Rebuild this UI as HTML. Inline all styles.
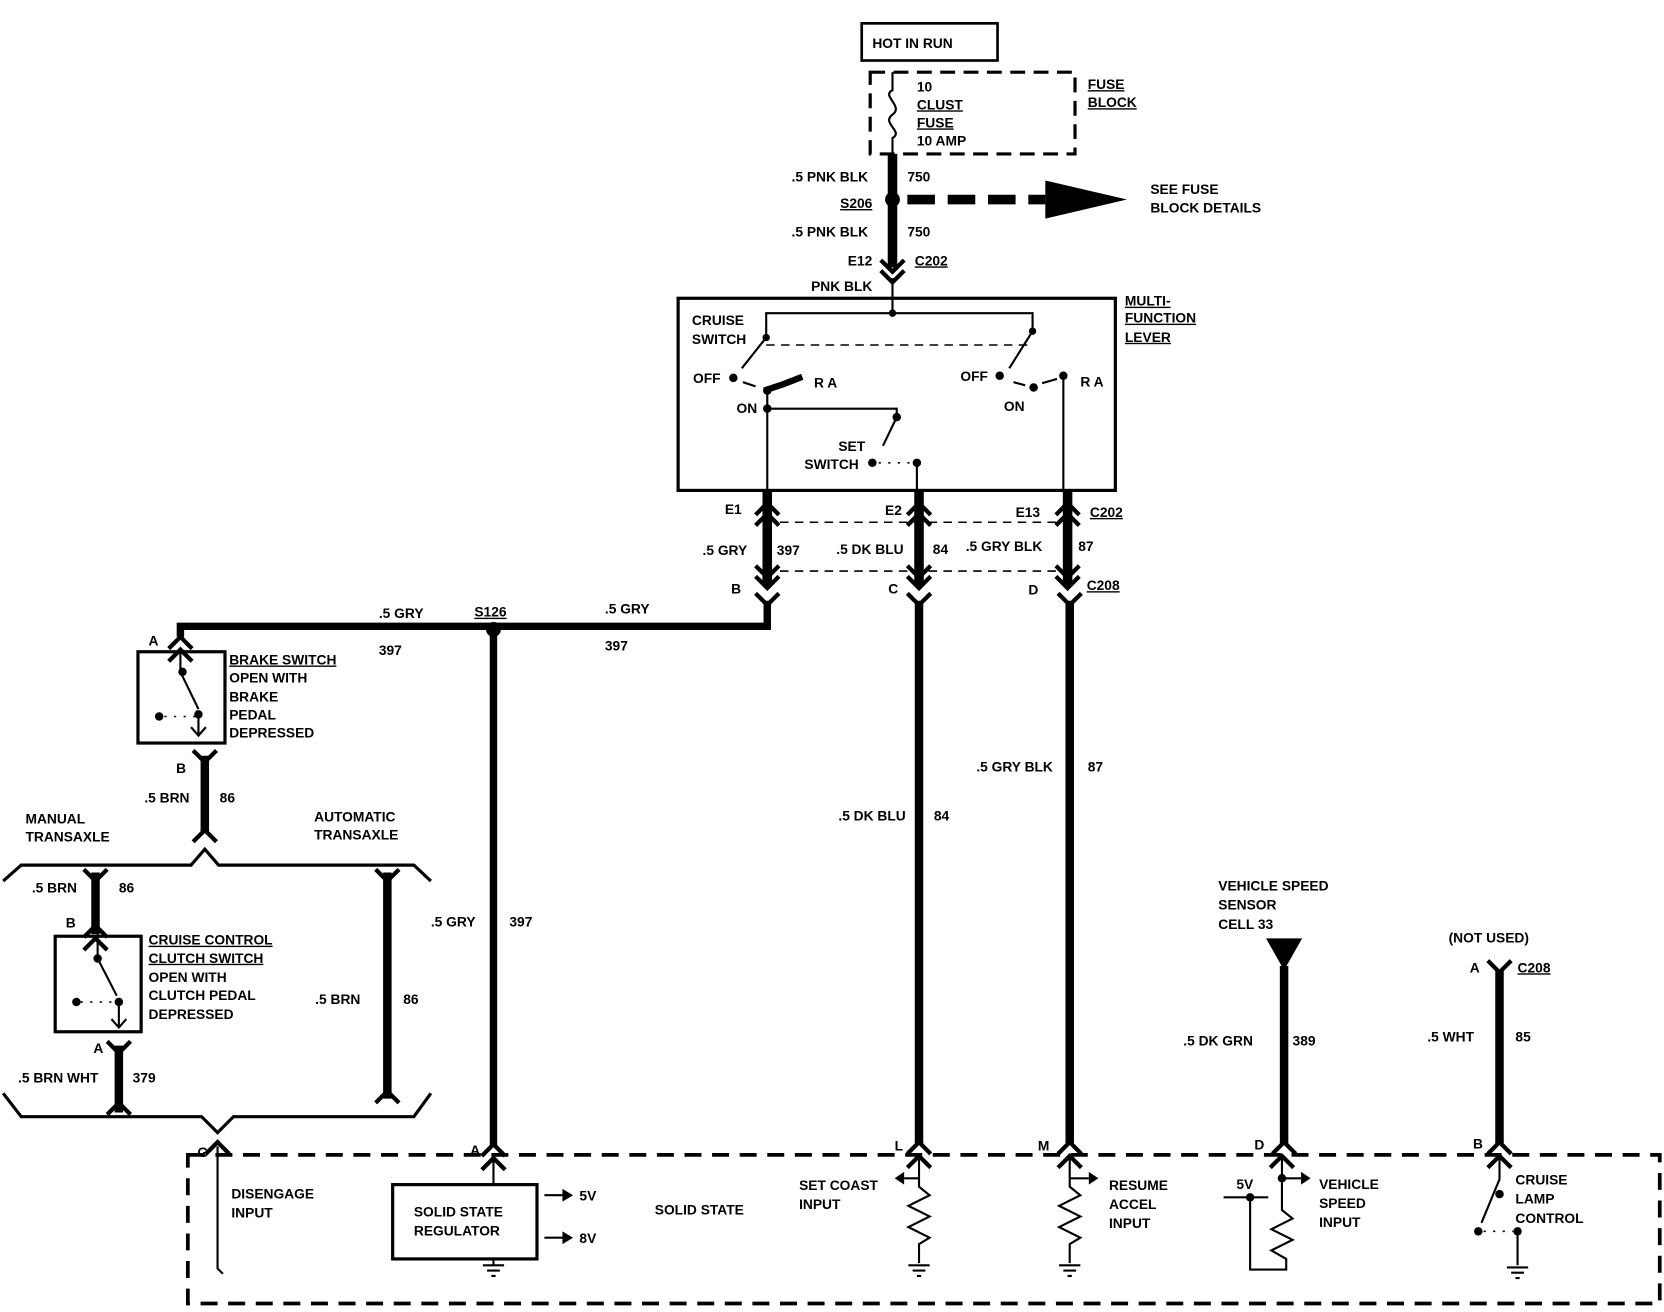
<!DOCTYPE html>
<html><head><meta charset="utf-8"><style>
html,body{margin:0;padding:0;background:#fff;}
svg{display:block;}
text{font-family:"Liberation Sans",sans-serif;font-weight:bold;font-size:13px;fill:#000;}
</style></head><body>
<svg width="1664" height="1312" viewBox="0 0 1568 1236" preserveAspectRatio="none" xmlns="http://www.w3.org/2000/svg">
<defs>
<path id="up" d="M-11,7 L0,-4 L11,7" fill="none" stroke="#000" stroke-width="4"/>
<path id="dn" d="M-11,-7 L0,4 L11,-7" fill="none" stroke="#000" stroke-width="4"/>
</defs>
<rect width="1568" height="1236" fill="#fff"/>
<g fill="none" stroke="#000">
<!-- hot in run -->
<rect x="812" y="22" width="128" height="35" stroke-width="2.5"/>
<rect x="820" y="68" width="193" height="77" stroke-width="3" stroke-dasharray="14,8"/>
<path d="M841,68 V85 C830,90 852,100 841,108 C830,116 852,124 841,130 V145" stroke-width="2"/>
<line x1="841" y1="145" x2="841" y2="252" stroke-width="9"/>
<line x1="855" y1="188" x2="985" y2="188" stroke-width="9" stroke-dasharray="26,12"/>
<!-- multifunction box -->
<rect x="639" y="281" width="412" height="181" stroke-width="3"/>
<line x1="841" y1="262" x2="841" y2="295" stroke-width="2"/>
<path d="M722,318 V295 H973 V312" stroke-width="2"/>
<line x1="722" y1="325" x2="968" y2="325" stroke-width="1.5" stroke-dasharray="8,6"/>
<path d="M722,318 L699,347 M973,312 L951,347" stroke-width="2"/>
<path d="M720,368 L738,362 L756,355" stroke-width="6"/>
<path d="M723,368 V462 M723,385 H845 V393 M845,393 L832,420" stroke-width="2"/>
<path d="M864,436 V462 M1002,354 V462" stroke-width="2"/>
<path d="M700,360 L712,364 M955,360 L966,363 M982,361 L996,357" stroke-width="2"/>
<path d="M828,436 L860,436" stroke-width="1.5" stroke-dasharray="2,7"/>
<!-- connectors E/C -->
<line x1="723" y1="462" x2="723" y2="552" stroke-width="9"/>
<line x1="866" y1="462" x2="866" y2="552" stroke-width="9"/>
<line x1="1006" y1="462" x2="1006" y2="552" stroke-width="9"/>
<line x1="735" y1="492" x2="1000" y2="492" stroke-width="1.5" stroke-dasharray="8,6"/>
<line x1="735" y1="538" x2="1000" y2="538" stroke-width="1.5" stroke-dasharray="8,6"/>
<!-- GRY wire -->
<path d="M723,566 V590 H170 V600" stroke-width="7"/>
<line x1="465" y1="590" x2="465" y2="1080" stroke-width="7"/>
<line x1="866" y1="566" x2="866" y2="1078" stroke-width="8"/>
<line x1="1008" y1="566" x2="1008" y2="1078" stroke-width="8"/>
<!-- brake switch -->
<rect x="130" y="614" width="82" height="86" stroke-width="3"/>
<path d="M170,610 V633 L187,668 M187,675 V693 M180,685 L187,693 L194,685" stroke-width="2"/>
<path d="M155,675 H184" stroke-width="1.5" stroke-dasharray="2,7"/>
<line x1="193" y1="712" x2="193" y2="785" stroke-width="8"/>
<path d="M3,830 L20,815 H180 L193,800 L206,815 H390 L406,830" stroke-width="3"/>
<path d="M3,1030 L20,1052 H190 L205,1067 L220,1052 H390 L406,1030" stroke-width="3"/>
<!-- clutch -->
<line x1="90" y1="822" x2="90" y2="880" stroke-width="8"/>
<rect x="52" y="882" width="81" height="90" stroke-width="3"/>
<path d="M92,880 V903 L110,938 M112,945 V968 M105,960 L112,968 L119,960" stroke-width="2"/>
<path d="M76,944 H108" stroke-width="1.5" stroke-dasharray="2,7"/>
<line x1="112" y1="985" x2="112" y2="1048" stroke-width="8"/>
<line x1="365" y1="822" x2="365" y2="1035" stroke-width="8"/>
<!-- bottom dashed box -->
<rect x="177" y="1088" width="1387" height="140" stroke-width="3.5" stroke-dasharray="16,10"/>
<path d="M205,1080 V1195 L210,1200" stroke-width="2"/>
<rect x="370" y="1116" width="136" height="70" stroke-width="3"/>
<path d="M465,1090 V1116 M465,1186 V1192" stroke-width="2"/>
<path d="M513,1126 H530 M513,1166 H530" stroke-width="2"/>
<!-- L -->
<path d="M866,1090 V1110 L866,1118 L876,1126 L856,1136 L876,1146 L856,1156 L876,1166 L866,1172 V1190 M852,1110 H866" stroke-width="2"/>
<path d="M1008,1090 V1118 L1018,1126 L998,1136 L1018,1146 L998,1156 L1018,1166 L1008,1172 V1190 M1008,1110 H1026" stroke-width="2"/>
<!-- VSS -->
<line x1="1210" y1="910" x2="1210" y2="1078" stroke-width="8"/>
<path d="M1208,1090 V1140 L1218,1148 L1198,1158 L1218,1168 L1198,1178 L1212,1186 V1196 H1178 V1128 M1153,1128 H1195 M1208,1110 H1226" stroke-width="2"/>
<!-- lamp -->
<line x1="1413" y1="915" x2="1413" y2="1078" stroke-width="8"/>
<path d="M1413,1090 V1111 L1396,1152 M1430,1160 V1192" stroke-width="2"/>
<path d="M1398,1160 H1426" stroke-width="1.5" stroke-dasharray="2,7"/>
<!-- grounds -->
<g stroke-width="2">
<path d="M455,1192 H475 M459,1197 H471 M463,1202 H467"/>
<path d="M856,1192 H876 M860,1197 H872 M864,1202 H868"/>
<path d="M998,1192 H1018 M1002,1197 H1014 M1006,1202 H1010"/>
<path d="M1420,1194 H1440 M1424,1199 H1436 M1428,1204 H1432"/>
</g>
</g>
<!-- arrowheads / triangles / dots -->
<g fill="#000">
<polygon points="985,170 1062,188 985,206"/>
<polygon points="1193,884 1227,884 1210,914"/>
<polygon points="530,1120 540,1126 530,1132"/>
<polygon points="530,1160 540,1166 530,1172"/>
<polygon points="852,1104 843,1110 852,1116"/>
<polygon points="1026,1104 1035,1110 1026,1116"/>
<polygon points="1226,1104 1235,1110 1226,1116"/>
<circle cx="841" cy="188" r="7"/><circle cx="465" cy="593" r="7"/>
<circle cx="841" cy="295" r="3.5"/><circle cx="722" cy="318" r="3.5"/><circle cx="973" cy="312" r="3.5"/>
<circle cx="691" cy="356" r="4"/><circle cx="723" cy="368" r="4"/><circle cx="942" cy="354" r="4"/>
<circle cx="974" cy="365" r="4"/><circle cx="1002" cy="354" r="4"/><circle cx="845" cy="393" r="4"/>
<circle cx="822" cy="436" r="4"/><circle cx="864" cy="436" r="4"/><circle cx="723" cy="385" r="4"/>
<circle cx="172" cy="633" r="4"/><circle cx="150" cy="675" r="4"/><circle cx="187" cy="673" r="4"/>
<circle cx="92" cy="903" r="4"/><circle cx="72" cy="944" r="4"/><circle cx="112" cy="944" r="4"/>
<circle cx="1178" cy="1128" r="4"/><circle cx="1208" cy="1110" r="4"/><circle cx="1413" cy="1125" r="4"/>
<circle cx="1393" cy="1160" r="4"/><circle cx="1430" cy="1160" r="4"/>
</g>
<!-- connector chevrons -->
<use href="#dn" x="841" y="252"/><use href="#dn" x="841" y="262"/>
<use href="#up" x="723" y="478"/><use href="#up" x="723" y="488"/>
<use href="#up" x="866" y="478"/><use href="#up" x="866" y="488"/>
<use href="#up" x="1006" y="478"/><use href="#up" x="1006" y="488"/>
<use href="#dn" x="723" y="540"/><use href="#dn" x="723" y="550"/>
<use href="#dn" x="866" y="540"/><use href="#dn" x="866" y="550"/>
<use href="#dn" x="1006" y="540"/><use href="#dn" x="1006" y="550"/>
<use href="#dn" x="723" y="566"/><use href="#dn" x="866" y="566"/><use href="#dn" x="1008" y="566"/>
<use href="#up" x="170" y="604"/><use href="#up" x="170" y="616"/>
<use href="#dn" x="193" y="714"/><use href="#up" x="193" y="786"/>
<use href="#dn" x="90" y="826"/><use href="#up" x="90" y="876"/><use href="#up" x="90" y="888"/>
<use href="#dn" x="112" y="988"/><use href="#up" x="112" y="1043"/>
<use href="#dn" x="365" y="826"/><use href="#up" x="365" y="1032"/>
<use href="#up" x="465" y="1082"/><use href="#up" x="465" y="1095"/>
<use href="#up" x="205" y="1080"/>
<use href="#up" x="866" y="1080"/><use href="#up" x="866" y="1093"/>
<use href="#up" x="1008" y="1080"/><use href="#up" x="1008" y="1093"/>
<use href="#up" x="1210" y="1080"/><use href="#up" x="1208" y="1093"/>
<use href="#up" x="1413" y="1080"/><use href="#up" x="1413" y="1093"/>
<use href="#dn" x="1413" y="912"/>
<!-- text -->
<text x="822" y="45">HOT IN RUN</text>
<text x="864" y="86">10</text><text x="864" y="103" text-decoration="underline">CLUST</text>
<text x="864" y="120" text-decoration="underline">FUSE</text><text x="864" y="137">10 AMP</text>
<text x="1025" y="84" text-decoration="underline">FUSE</text><text x="1025" y="101" text-decoration="underline">BLOCK</text>
<text x="818" y="171" text-anchor="end">.5 PNK BLK</text><text x="855" y="171">750</text>
<text x="822" y="196" text-anchor="end" text-decoration="underline">S206</text>
<text x="1084" y="183">SEE FUSE</text><text x="1084" y="200">BLOCK DETAILS</text>
<text x="818" y="223" text-anchor="end">.5 PNK BLK</text><text x="855" y="223">750</text>
<text x="822" y="250" text-anchor="end">E12</text><text x="862" y="250" text-decoration="underline">C202</text>
<text x="822" y="274" text-anchor="end">PNK BLK</text>
<text x="1060" y="288" text-decoration="underline">MULTI-</text><text x="1060" y="304" text-decoration="underline">FUNCTION</text><text x="1060" y="322" text-decoration="underline">LEVER</text>
<text x="652" y="306">CRUISE</text><text x="652" y="324">SWITCH</text>
<text x="653" y="361">OFF</text><text x="767" y="365">R A</text><text x="694" y="389">ON</text>
<text x="905" y="359">OFF</text><text x="1018" y="364">R A</text><text x="946" y="387">ON</text>
<text x="790" y="425">SET</text><text x="758" y="442">SWITCH</text>
<text x="683" y="484">E1</text><text x="834" y="485">E2</text><text x="957" y="487">E13</text>
<text x="1027" y="487" text-decoration="underline">C202</text>
<text x="662" y="523">.5 GRY</text><text x="732" y="523">397</text>
<text x="788" y="522">.5 DK BLU</text><text x="879" y="522">84</text>
<text x="910" y="519">.5 GRY BLK</text><text x="1016" y="519">87</text>
<text x="689" y="559">B</text><text x="837" y="559">C</text><text x="969" y="560">D</text>
<text x="1024" y="556" text-decoration="underline">C208</text>
<text x="357" y="582">.5 GRY</text><text x="447" y="581" text-decoration="underline">S126</text><text x="570" y="578">.5 GRY</text>
<text x="357" y="617">397</text><text x="570" y="613">397</text>
<text x="140" y="608">A</text>
<text x="216" y="626" text-decoration="underline">BRAKE SWITCH</text><text x="216" y="643">OPEN WITH</text>
<text x="216" y="661">BRAKE</text><text x="216" y="678">PEDAL</text><text x="216" y="695">DEPRESSED</text>
<text x="166" y="728">B</text><text x="136" y="756">.5 BRN</text><text x="207" y="756">86</text>
<text x="24" y="776">MANUAL</text><text x="24" y="793">TRANSAXLE</text>
<text x="296" y="774">AUTOMATIC</text><text x="296" y="791">TRANSAXLE</text>
<text x="30" y="841">.5 BRN</text><text x="112" y="841">86</text><text x="62" y="874">B</text>
<text x="140" y="890" text-decoration="underline">CRUISE CONTROL</text><text x="140" y="907" text-decoration="underline">CLUTCH SWITCH</text>
<text x="140" y="925">OPEN WITH</text><text x="140" y="942">CLUTCH PEDAL</text><text x="140" y="960">DEPRESSED</text>
<text x="88" y="992">A</text><text x="17" y="1020">.5 BRN WHT</text><text x="125" y="1020">379</text>
<text x="297" y="946">.5 BRN</text><text x="380" y="946">86</text>
<text x="406" y="873">.5 GRY</text><text x="480" y="873">397</text>
<text x="790" y="773">.5 DK BLU</text><text x="880" y="773">84</text>
<text x="920" y="727">.5 GRY BLK</text><text x="1025" y="727">87</text>
<text x="1148" y="839">VEHICLE SPEED</text><text x="1148" y="857">SENSOR</text><text x="1148" y="875">CELL 33</text>
<text x="1115" y="985">.5 DK GRN</text><text x="1218" y="985">389</text>
<text x="1365" y="888">(NOT USED)</text><text x="1385" y="916">A</text><text x="1430" y="916" text-decoration="underline">C208</text>
<text x="1345" y="981">.5 WHT</text><text x="1428" y="981">85</text>
<text x="186" y="1090">G</text><text x="443" y="1088">A</text><text x="843" y="1084">L</text>
<text x="978" y="1084">M</text><text x="1182" y="1083">D</text><text x="1388" y="1082">B</text>
<text x="218" y="1129">DISENGAGE</text><text x="218" y="1147">INPUT</text>
<text x="390" y="1146">SOLID STATE</text><text x="390" y="1164">REGULATOR</text>
<text x="546" y="1131">5V</text><text x="546" y="1171">8V</text>
<text x="617" y="1144">SOLID STATE</text>
<text x="753" y="1121">SET COAST</text><text x="753" y="1139">INPUT</text>
<text x="1045" y="1121">RESUME</text><text x="1045" y="1139">ACCEL</text><text x="1045" y="1157">INPUT</text>
<text x="1165" y="1120">5V</text>
<text x="1243" y="1120">VEHICLE</text><text x="1243" y="1138">SPEED</text><text x="1243" y="1156">INPUT</text>
<text x="1428" y="1116">CRUISE</text><text x="1428" y="1134">LAMP</text><text x="1428" y="1152">CONTROL</text>
</svg>
</body></html>
